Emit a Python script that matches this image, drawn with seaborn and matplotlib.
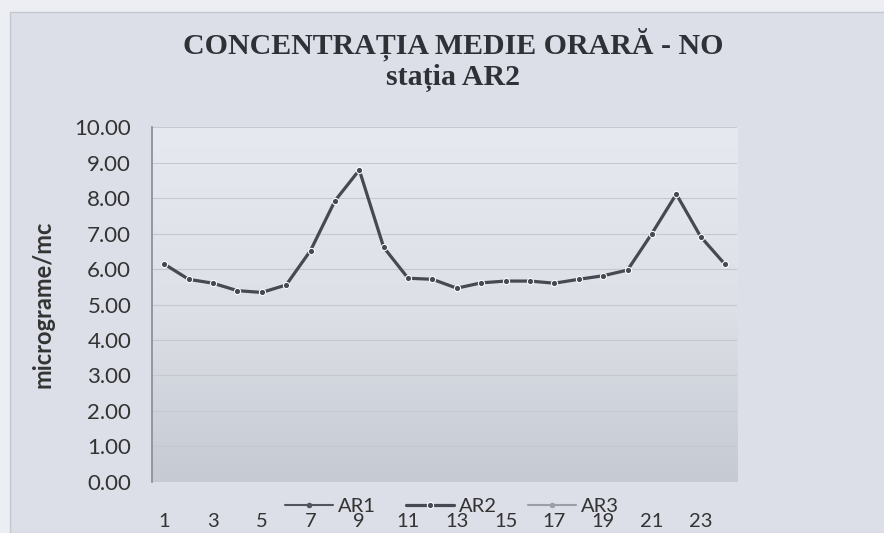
import numpy as np
import pandas as pd
import seaborn as sns
import matplotlib.pyplot as plt
from matplotlib.patches import Rectangle
from matplotlib.colors import LinearSegmentedColormap

# hourly mean NO concentration, station AR2
hours = list(range(1, 25))
ar2 = [6.14, 5.71, 5.60, 5.39, 5.34, 5.55, 6.52, 7.92, 8.79, 6.61, 5.74, 5.71,
       5.46, 5.61, 5.66, 5.66, 5.60, 5.71, 5.81, 5.97, 7.00, 8.11, 6.91, 6.13]
series = ["AR1", "AR2", "AR3"]
tick_labels = [str(h) for h in hours]

sns.set_theme(style="whitegrid")
plt.rcParams['font.family'] = ['Lato', 'DejaVu Sans']

fig = plt.figure(figsize=(8.84, 5.33), dpi=100)
fig.patch.set_facecolor("#eceef4")
# chart area (scanned, slightly darker than the page)
fig.patches.append(Rectangle((10 / 884, 0), 1, 1 - 12 / 533, transform=fig.transFigure,
                             facecolor="#dcdfe7", edgecolor="#c3c7cf", lw=1, zorder=-10))

ax = fig.add_axes([0.172, 0.0957, 0.662, 0.666])
ax.set_zorder(1)

# gradient background of the plot area
grad = np.linspace(0, 1, 256).reshape(-1, 1)
ax.imshow(grad, cmap=LinearSegmentedColormap.from_list(
    "bg", ["#e6e9ef", "#dde0e7", "#c6cad2"]), aspect="auto",
    extent=[0.5, 24.5, 0, 10], origin="upper", zorder=0)

df = pd.DataFrame({"hour": hours, "AR2": ar2})
ax.plot([], [], color="#50555d", marker="o", markersize=3, lw=1.5, label=series[0])
sns.lineplot(data=df, x="hour", y="AR2", ax=ax, color="#454a52", marker="o",
             markersize=4.5, linewidth=2.3, label=series[1], zorder=3)
ax.plot([], [], color="#9a9ea5", marker="o", markersize=3, lw=1.5, label=series[2])

ax.set_xlim(0.5, 24.5)
ax.set_ylim(0, 10)
ax.set_yticks(np.arange(0, 10.01, 1))
ax.set_yticklabels([f"{v:.2f}" for v in np.arange(0, 10.01, 1)], fontsize=16, color="#333333")
ax.set_xticks(hours[::2])
ax.set_xticklabels(tick_labels[::2], fontsize=14.5, color="#333333")
ax.tick_params(axis="y", length=0, pad=15)
ax.tick_params(axis="x", length=0, pad=22)
ax.grid(axis="y", color="#c4c8cf", linewidth=0.8)
ax.grid(axis="x", visible=False)
for s in ax.spines.values():
    s.set_visible(False)
ax.spines["left"].set_visible(True)
ax.spines["left"].set_color("#8a8e95")

ax.set_xlabel("")
ax.set_ylabel("micrograme/mc", fontsize=17, fontweight="bold", color="#333333")
ax.yaxis.set_label_coords(-0.166, 0.5)

fig.text(0.513, 1 - 53 / 533, "CONCENTRAȚIA MEDIE ORARĂ - NO", ha="center", va="baseline",
         fontsize=21.5, fontweight="bold", family="Liberation Serif", color="#2e3136")
fig.text(0.513, 1 - 85 / 533, "stația AR2", ha="center", va="baseline",
         fontsize=21.5, fontweight="bold", family="Liberation Serif", color="#2e3136")

ax.legend(ncol=3, frameon=False, loc="center", bbox_to_anchor=(0.511, 0.05),
          bbox_transform=fig.transFigure, fontsize=14.5, handlelength=2.4,
          columnspacing=1.5, handletextpad=0.25, labelcolor="#333333")

fig.savefig("out.png", dpi=100, facecolor=fig.get_facecolor())
